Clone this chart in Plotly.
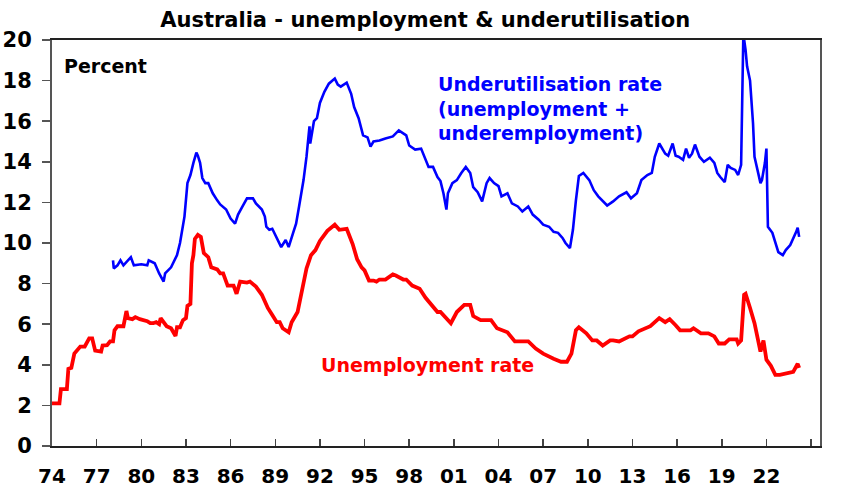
import plotly.graph_objects as go

# ---- Data ----
unemp_year = [1974.0, 1974.5, 1974.6, 1975.0, 1975.1, 1975.3, 1975.5, 1975.9, 1976.2, 1976.5,
              1976.7, 1976.9, 1977.3, 1977.4, 1977.7, 1977.9, 1978.1, 1978.2, 1978.4, 1978.8,
              1979.0, 1979.1, 1979.4, 1979.6, 1979.9, 1980.1, 1980.4, 1980.6, 1980.8, 1981.0,
              1981.2, 1981.3, 1981.5, 1981.7, 1982.0, 1982.3, 1982.4, 1982.6, 1982.8, 1983.0,
              1983.1, 1983.3, 1983.4, 1983.5, 1983.6, 1983.8, 1984.0, 1984.2, 1984.5, 1984.7,
              1985.1, 1985.3, 1985.5, 1985.8, 1986.2, 1986.4, 1986.64, 1987.1, 1987.3, 1987.7,
              1988.1, 1988.5, 1988.8, 1989.1, 1989.3, 1989.5, 1989.9, 1990.1, 1990.5, 1990.8,
              1991.1, 1991.4, 1991.7, 1992.0, 1992.5, 1993.0, 1993.3, 1993.8, 1994.2, 1994.5,
              1994.8, 1995.0, 1995.3, 1995.6, 1995.8, 1996.0, 1996.4, 1996.9, 1997.1, 1997.6,
              1997.8, 1998.2, 1998.7, 1999.1, 1999.6, 1999.9, 2000.1, 2000.8, 2001.2, 2001.7,
              2002.1, 2002.3, 2002.8, 2003.5, 2003.9, 2004.6, 2005.1, 2005.5, 2006.0, 2006.5,
              2007.0, 2007.7, 2008.2, 2008.6, 2008.9, 2009.2, 2009.4, 2009.9, 2010.3, 2010.6,
              2011.0, 2011.5, 2011.7, 2012.1, 2012.8, 2013.0, 2013.4, 2014.2, 2014.8, 2015.2,
              2015.5, 2015.9, 2016.2, 2016.9, 2017.1, 2017.6, 2018.1, 2018.5, 2018.8, 2019.2,
              2019.5, 2020.0, 2020.1, 2020.3, 2020.5, 2020.6, 2020.8, 2020.9, 2021.2, 2021.4,
              2021.6, 2021.8, 2022.0, 2022.3, 2022.6, 2022.9, 2023.4, 2023.8, 2024.1, 2024.2]
unemp_rate = [2.1, 2.1, 2.8, 2.8, 3.8, 3.85, 4.55, 4.9, 4.9, 5.3,
              5.3, 4.7, 4.65, 4.95, 4.97, 5.15, 5.15, 5.7, 5.9, 5.9,
              6.65, 6.3, 6.25, 6.35, 6.25, 6.2, 6.15, 6.05, 6.05, 6.1,
              6.0, 6.3, 6.1, 5.9, 5.8, 5.42, 5.85, 5.85, 6.2, 6.3,
              6.9, 7.0, 9.0, 9.4, 10.2, 10.4, 10.3, 9.5, 9.3, 8.8,
              8.7, 8.5, 8.5, 7.9, 7.9, 7.5, 8.1, 8.05, 8.1, 7.85,
              7.45, 6.8, 6.45, 6.1, 6.1, 5.8, 5.6, 6.1, 6.6, 7.7,
              8.75, 9.4, 9.65, 10.1, 10.6, 10.9, 10.65, 10.7, 9.95, 9.2,
              8.8, 8.65, 8.15, 8.15, 8.1, 8.2, 8.2, 8.45, 8.4, 8.2,
              8.2, 7.9, 7.75, 7.3, 6.85, 6.6, 6.6, 6.05, 6.6, 6.95,
              6.95, 6.4, 6.2, 6.2, 5.8, 5.6, 5.15, 5.15, 5.15, 4.8,
              4.55, 4.3, 4.15, 4.15, 4.55, 5.7, 5.85, 5.55, 5.2, 5.2,
              4.95, 5.2, 5.2, 5.15, 5.4, 5.4, 5.65, 5.9, 6.3, 6.1,
              6.25, 5.95, 5.7, 5.7, 5.8, 5.55, 5.55, 5.4, 5.05, 5.05,
              5.25, 5.25, 5.05, 5.2, 7.45, 7.5, 6.95, 6.8, 6.05, 5.4,
              4.65, 5.2, 4.25, 3.95, 3.5, 3.5, 3.6, 3.65, 4.05, 3.85]

under_year = [1978.1, 1978.15, 1978.4, 1978.6, 1978.8, 1979.3, 1979.5, 1980.0, 1980.4, 1980.5,
              1980.9, 1981.2, 1981.5, 1981.6, 1982.0, 1982.4, 1982.6, 1982.9, 1983.1, 1983.3,
              1983.5, 1983.7, 1983.8, 1983.95, 1984.1, 1984.3, 1984.5, 1984.8, 1985.1, 1985.3,
              1985.7, 1986.0, 1986.3, 1986.5, 1986.8, 1987.1, 1987.5, 1987.7, 1988.1, 1988.3,
              1988.4, 1988.6, 1988.8, 1989.1, 1989.4, 1989.7, 1989.9, 1990.2, 1990.4, 1990.6,
              1990.9, 1991.1, 1991.2, 1991.3, 1991.35, 1991.6, 1991.8, 1992.0, 1992.3, 1992.6,
              1993.0, 1993.2, 1993.4, 1993.8, 1994.1, 1994.3, 1994.6, 1994.8, 1994.9, 1995.2,
              1995.4, 1995.6, 1996.0, 1996.4, 1996.9, 1997.3, 1997.8, 1998.0, 1998.4, 1998.8,
              1999.0, 1999.3, 1999.6, 1999.9, 2000.1, 2000.3, 2000.5, 2000.6, 2000.9, 2001.2,
              2001.5, 2001.8, 2002.1, 2002.3, 2002.6, 2002.9, 2003.2, 2003.4, 2003.7, 2004.0,
              2004.2, 2004.6, 2004.9, 2005.3, 2005.6, 2006.0, 2006.3, 2006.7, 2007.0, 2007.4,
              2007.7, 2008.0, 2008.3, 2008.5, 2008.8, 2009.0, 2009.2, 2009.4, 2009.7, 2010.1,
              2010.4, 2010.7, 2011.3, 2011.7, 2012.1, 2012.6, 2012.9, 2013.3, 2013.6, 2014.0,
              2014.3, 2014.5, 2014.8, 2015.0, 2015.2, 2015.4, 2015.7, 2015.9, 2016.1, 2016.4,
              2016.6, 2016.8, 2017.0, 2017.2, 2017.5, 2017.8, 2018.2, 2018.5, 2018.7, 2018.9,
              2019.2, 2019.4, 2019.6, 2019.9, 2020.1, 2020.3, 2020.35, 2020.45, 2020.6, 2020.7,
              2020.9, 2021.1, 2021.2, 2021.4, 2021.6, 2021.7, 2021.9, 2022.0, 2022.05, 2022.1,
              2022.4, 2022.6, 2022.8, 2023.1, 2023.3, 2023.6, 2023.8, 2024.0, 2024.1, 2024.2]
under_rate = [9.15, 8.75, 8.9, 9.15, 8.9, 9.3, 8.9, 8.95, 8.9, 9.15,
              9.0, 8.5, 8.1, 8.5, 8.8, 9.4, 10.0, 11.3, 12.95, 13.35,
              13.95, 14.45, 14.3, 13.95, 13.2, 12.95, 12.95, 12.45, 12.1, 11.9,
              11.65, 11.2, 10.95, 11.4, 11.8, 12.2, 12.2, 11.95, 11.65, 11.3,
              10.8, 10.65, 10.7, 10.25, 9.8, 10.15, 9.8, 10.5, 10.95, 11.8,
              13.1, 14.25, 15.05, 15.75, 14.9, 16.0, 16.15, 16.9, 17.45, 17.85,
              18.1, 17.8, 17.7, 17.9, 17.35, 16.7, 16.15, 15.55, 15.3, 15.2,
              14.75, 15.0, 15.05, 15.15, 15.25, 15.55, 15.3, 14.8, 14.6, 14.65,
              14.25, 13.75, 13.75, 13.25, 13.05, 12.45, 11.65, 12.45, 12.95, 13.1,
              13.45, 13.75, 13.45, 12.75, 12.5, 12.05, 12.95, 13.2, 12.95, 12.8,
              12.3, 12.45, 11.95, 11.8, 11.55, 11.8, 11.4, 11.15, 10.9, 10.8,
              10.55, 10.5, 10.25, 10.0, 9.75, 10.65, 12.1, 13.3, 13.45, 13.1,
              12.6, 12.3, 11.85, 12.05, 12.3, 12.5, 12.2, 12.45, 13.1, 13.35,
              13.45, 14.25, 14.9, 14.65, 14.4, 14.3, 14.9, 14.3, 14.25, 14.1,
              14.65, 14.2, 14.4, 14.85, 14.25, 14.0, 14.2, 13.95, 13.45, 13.25,
              13.0, 13.85, 13.7, 13.6, 13.35, 13.85, 17.2, 20.3, 19.5, 18.7,
              18.0, 15.9, 14.25, 13.6, 12.95, 13.1, 13.95, 14.65, 13.1, 10.8,
              10.5, 10.0, 9.55, 9.4, 9.65, 9.9, 10.2, 10.55, 10.75, 10.3]

x_tick_vals = [1974, 1977, 1980, 1983, 1986, 1989, 1992, 1995, 1998, 2001, 2004, 2007,
               2010, 2013, 2016, 2019, 2022, 2025]
x_tick_text = ["74", "77", "80", "83", "86", "89", "92", "95", "98", "01", "04", "07",
               "10", "13", "16", "19", "22", ""]
y_tick_vals = [0, 2, 4, 6, 8, 10, 12, 14, 16, 18, 20]

FONT = "DejaVu Sans, Liberation Sans, Arial, sans-serif"

fig = go.Figure()
fig.add_trace(go.Scatter(x=under_year, y=under_rate, mode="lines",
                         line=dict(color="#0000FF", width=2.6), hoverinfo="skip",
                         showlegend=False))
fig.add_trace(go.Scatter(x=unemp_year, y=unemp_rate, mode="lines",
                         line=dict(color="#FF0000", width=3.8), hoverinfo="skip",
                         showlegend=False))

fig.update_layout(
    width=842, height=491,
    margin=dict(l=52, r=22, t=40, b=45, autoexpand=False),
    paper_bgcolor="white", plot_bgcolor="white",
    title=dict(text="Australia - unemployment & underutilisation",
               x=0.505, xanchor="center", y=0.959, yanchor="middle",
               font=dict(family=FONT, size=21, color="black", weight="bold"),
               automargin=False),
    font=dict(family=FONT, color="black"),
    xaxis=dict(range=[1974, 2025.6], tickmode="array", tickvals=x_tick_vals,
               ticktext=x_tick_text, ticks="inside", ticklen=7, tickwidth=1.5,
               tickcolor="#444", showgrid=False, zeroline=False,
               showline=True, linecolor="#222", linewidth=2, mirror=True,
               tickfont=dict(family=FONT, size=20, weight="bold", color="black"),
               ticklabelstandoff=11, automargin=False),
    yaxis=dict(range=[0, 20], tickmode="array", tickvals=y_tick_vals,
               ticks="outside", ticklen=8, tickwidth=1.5, tickcolor="#555",
               showgrid=False, zeroline=False,
               showline=True, linecolor="#555", linewidth=2, mirror=True,
               tickfont=dict(family=FONT, size=21, weight="bold", color="black"),
               ticklabelstandoff=6, automargin=False),
    annotations=[
        dict(text="Percent", xref="paper", yref="paper", x=0.013, y=0.936,
             xanchor="left", yanchor="middle", showarrow=False,
             font=dict(family=FONT, size=19, weight="bold", color="black")),
        dict(text="Underutilisation rate<br>(unemployment +<br>underemployment)",
             xref="paper", yref="paper", x=0.500, y=0.832, align="left",
             xanchor="left", yanchor="middle", showarrow=False,
             font=dict(family=FONT, size=19, weight="bold", color="#0000FF")),
        dict(text="Unemployment rate", xref="paper", yref="paper", x=0.348, y=0.1995,
             xanchor="left", yanchor="middle", showarrow=False,
             font=dict(family=FONT, size=19, weight="bold", color="#FF0000")),
    ],
)

fig.write_html("out.html", config={"displayModeBar": False, "staticPlot": True},
               post_script="document.body.style.margin='0';document.body.style.overflow='hidden';")
